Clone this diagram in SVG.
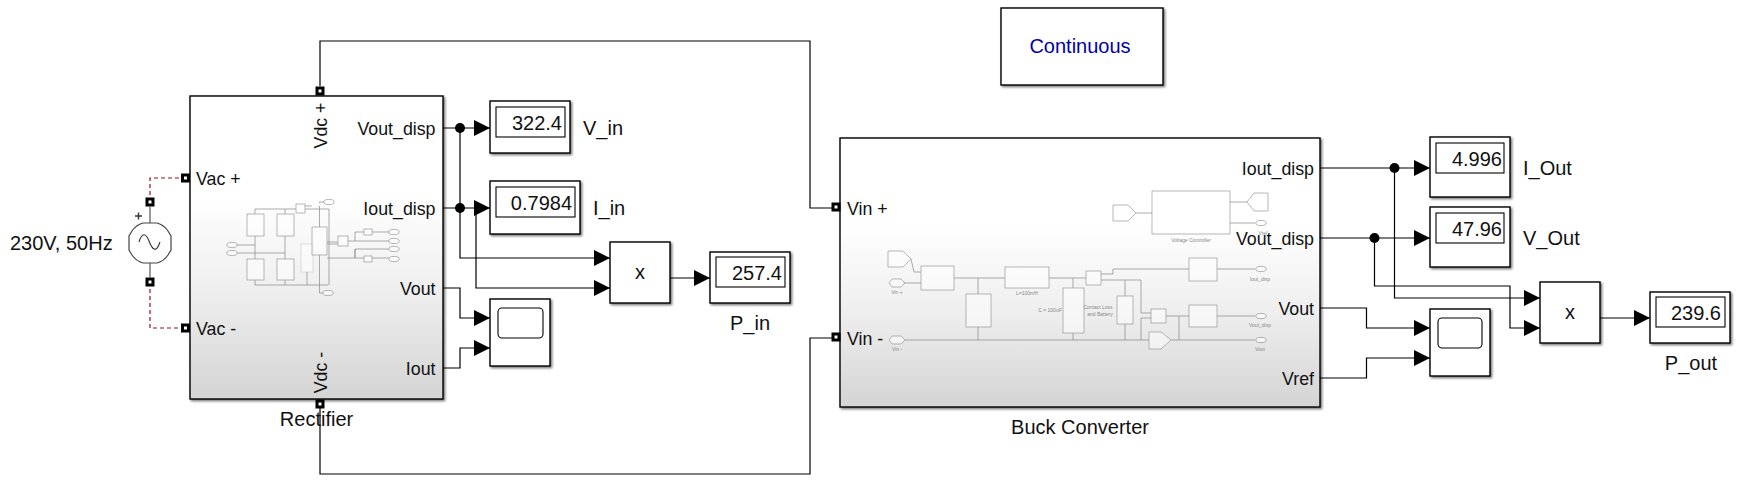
<svg xmlns="http://www.w3.org/2000/svg" width="1749" height="489" viewBox="0 0 1749 489">
<style>
text{font-family:"Liberation Sans",Arial,sans-serif;fill:#111}
.w{fill:none;stroke:#000;stroke-width:1.2}
.a{marker-end:url(#arr)}
.d{fill:none;stroke:#a01020;stroke-width:1.2;stroke-dasharray:4 3}
.b{fill:#fff;stroke:#000;stroke-width:1.4;filter:url(#sh)}
.i{fill:#fff;stroke:#000;stroke-width:1.1}
.g{fill:url(#grad);stroke:#000;stroke-width:1.4;filter:url(#sh)}
.p{font-size:17.8px}
.l{font-size:20px}
.v{font-size:20px;text-anchor:end}
.e{text-anchor:end}
.m{text-anchor:middle}
.mb{fill:#fff;fill-opacity:.5;stroke:#999;stroke-width:.7}
.ml{fill:none;stroke:#888;stroke-width:.7}
.mt{font-size:5px;fill:#888;text-anchor:middle}
</style>
<defs>
<filter id="sh" x="-5%" y="-5%" width="112%" height="112%"><feDropShadow dx="1.5" dy="1.5" stdDeviation="1.3" flood-color="#000" flood-opacity=".55"/></filter>
<linearGradient id="grad" x1="0" y1="0" x2="0" y2="1"><stop offset="0" stop-color="#fff"/><stop offset=".33" stop-color="#fff"/><stop offset=".65" stop-color="#eee"/><stop offset="1" stop-color="#d4d4d4"/></linearGradient>
<marker id="arr" markerUnits="userSpaceOnUse" markerWidth="17" markerHeight="17" refX="16" refY="8" orient="auto"><path d="M0 0L16 8L0 16Z" fill="#000"/></marker>
<g id="port"><rect x="-4.500" y="-4.500" width="9" height="9" fill="#000"/><rect x="-1.500" y="-1.500" width="3" height="3" fill="#fff"/></g>
<ellipse id="ov" rx="5.200" ry="2.600" fill="#fff" fill-opacity=".6" stroke="#888" stroke-width=".6"/>
</defs>

<g id="connectors">
<path class="w" d="M320 86V41H810V208H832"/>
<path class="w" d="M320 408V474H810V338H832"/>
<path class="d" d="M150 202V178H181"/>
<path class="d" d="M150 282V328H181"/>
<path class="w" d="M150 207V224M150 263V277" style="stroke:#555"/>
<path class="w a" d="M443 128H490"/>
<path class="w a" d="M443 208H490"/>
<path class="w a" d="M460 128V258H610"/>
<path class="w a" d="M476 208V288H610"/>
<path class="w a" d="M443 288H460V318H490"/>
<path class="w a" d="M443 368H460V348H490"/>
<path class="w a" d="M670 278H710"/>
<path class="w a" d="M1320 168H1430"/>
<path class="w a" d="M1320 238H1430"/>
<path class="w a" d="M1374.500 238V286H1510V328H1540"/>
<path class="w a" d="M1394.500 168V298H1540"/>
<path class="w a" d="M1320 308H1366.500V328H1430"/>
<path class="w a" d="M1320 378H1366.500V358H1430"/>
<path class="w a" d="M1600 318H1650"/>
<circle cx="460" cy="128" r="5"/><circle cx="460" cy="208" r="5"/>
<circle cx="1394.500" cy="168" r="5"/><circle cx="1374.500" cy="238" r="5"/>
</g>

<g id="continuous"><rect class="b" x="1001" y="8" width="162" height="77"/><text x="1080" y="53" font-size="20" text-anchor="middle" style="fill:#0000aa">Continuous</text></g>

<g id="source">
<use href="#port" x="150" y="202"/><use href="#port" x="150" y="282"/>
<path d="M143 223H157Q164 225 168 231L171 236V250L168 255Q164 261 157 263H143Q136 261 132 255L129 250V236L132 231Q136 225 143 223Z" fill="#fff" stroke="#444" stroke-width="1.200"/>
<path d="M139 242C142 232 146 233 149 241S156 254 160 242" fill="none" stroke="#333" stroke-width="1.100"/>
<path d="M135 216H142M138.500 212.500V219.500" stroke="#333" stroke-width="1.400"/>
<text class="l" x="10" y="250">230V, 50Hz</text>
</g>

<g id="rectifier">
<rect class="g" x="190" y="96" width="253" height="303"/>
<g id="rectifier-inner">
<rect class="mb" x="301" y="244" width="12" height="28" stroke-opacity=".4"/>
<path class="ml" d="M255 214V209H296M285 209V214M285 236V259M255 236V259M255 280V285H328M285 280V285M237 245H255M237 253H285M305 206H312M305 209H329V285M319.500 206V227M319.500 203V202H324M319.500 255V293H323M327 242H338M327 244H338M327 258H355V249H389M348 241H355V232H364M355 241H389M372 232H389M355 249V258H364M372 258H389M307 272V285"/>
<rect class="mb" x="247" y="214" width="17" height="22"/><rect class="mb" x="277" y="214" width="17" height="22"/>
<rect class="mb" x="247" y="259" width="17" height="21"/><rect class="mb" x="277" y="259" width="17" height="21"/>
<rect class="mb" x="296" y="204" width="9" height="9"/>
<rect class="mb" x="312" y="227" width="15" height="28"/>
<rect class="mb" x="338" y="236" width="10" height="10"/>
<rect class="mb" x="364" y="229" width="8" height="6"/><rect class="mb" x="364" y="256" width="8" height="6"/>
<use href="#ov" x="232" y="245"/><use href="#ov" x="232" y="253"/><use href="#ov" x="329" y="202"/><use href="#ov" x="328" y="293"/>
<use href="#ov" x="394" y="232"/><use href="#ov" x="394" y="241"/><use href="#ov" x="394" y="249"/><use href="#ov" x="394" y="259"/>
</g>
<use href="#port" x="320" y="91"/><use href="#port" x="320" y="404"/>
<use href="#port" x="185.500" y="178"/><use href="#port" x="185.500" y="328"/>
<text class="p" x="196" y="185">Vac +</text><text class="p" x="196" y="335">Vac -</text>
<text class="p e" x="435.500" y="135">Vout_disp</text><text class="p e" x="435.500" y="215">Iout_disp</text>
<text class="p e" x="435.500" y="295">Vout</text><text class="p e" x="435.500" y="375">Iout</text>
<text class="p m" transform="translate(327 125.500) rotate(-90)">Vdc +</text>
<text class="p m" transform="translate(327 372.500) rotate(-90)">Vdc -</text>
<text class="l m" x="316.500" y="426">Rectifier</text>
</g>

<g id="buck">
<rect class="g" x="840" y="138" width="480" height="269"/>
<g id="buck-inner">
<path class="ml" d="M1136 213H1152M1230 202H1247M1230 223H1255M911 259L914 272H921M903 283H921M954 278H1005M978 278V294M978 327V340M1049 278H1086M1073 278V288M1073 333V340M905 340H1149M1101 274H1113V269H1189M1101 280H1141V313H1151M1125 280V296M1125 324V340M1141 340V318H1151M1166 316H1189M1179 316V340M1171 340H1255M1217 269H1255M1217 316H1255"/>
<rect class="mb" x="1152" y="191" width="78" height="43"/>
<path class="mb" d="M1113 205H1128L1136 213L1128 221H1113Z"/>
<path class="mb" d="M1268 193H1254L1247 202L1254 211H1268Z"/>
<path class="mb" d="M888 251H903L911 259L903 267H888Z"/>
<path class="mb" d="M1149 332H1161L1171 340L1161 349H1149Z"/>
<rect class="mb" x="921" y="266" width="33" height="24"/>
<rect class="mb" x="1005" y="267" width="44" height="21"/>
<rect class="mb" x="966" y="294" width="25" height="33"/>
<rect class="mb" x="1063" y="288" width="21" height="45"/>
<rect class="mb" x="1086" y="271" width="15" height="14"/>
<rect class="mb" x="1117" y="296" width="16" height="28"/>
<rect class="mb" x="1151" y="309" width="15" height="14"/>
<rect class="mb" x="1189" y="258" width="28" height="23"/>
<rect class="mb" x="1189" y="305" width="28" height="22"/>
<path class="mb" d="M889 283L892 279H901L905 283L901 287H892Z"/><path class="mb" d="M889 340L892 336H901L905 340L901 344H892Z"/>
<use href="#ov" x="1261" y="223"/><use href="#ov" x="1261" y="269"/><use href="#ov" x="1261" y="316"/><use href="#ov" x="1261" y="340"/>
<text class="mt" x="1191" y="242">Voltage Controller</text>
<text class="mt" x="1263" y="235">Vref</text>
<text class="mt" x="897" y="294">Vin +</text><text class="mt" x="897" y="351">Vin -</text>
<text class="mt" x="1027" y="295">L=100mH</text>
<text class="mt" x="1050" y="312">C = 100uF</text>
<text class="mt" x="1098" y="309">Contact Loss</text><text class="mt" x="1100" y="316">and Battery</text>
<text class="mt" x="1260" y="281">Iout_disp</text><text class="mt" x="1260" y="327">Vout_disp</text><text class="mt" x="1260" y="351">Vout</text>
</g>
<use href="#port" x="836" y="207"/><use href="#port" x="836" y="337"/>
<text class="p" x="847" y="215">Vin +</text><text class="p" x="847" y="345">Vin -</text>
<text class="p e" x="1314" y="175">Iout_disp</text><text class="p e" x="1314" y="245">Vout_disp</text>
<text class="p e" x="1314" y="315">Vout</text><text class="p e" x="1314" y="385">Vref</text>
<text class="l m" x="1080" y="434">Buck Converter</text>
</g>

<g id="v-in"><rect class="b" x="490" y="101" width="80" height="52"/><rect class="i" x="496" y="107" width="69" height="30"/><text class="v" x="562" y="130">322.4</text><text class="l" x="583" y="135">V_in</text></g>
<g id="i-in"><rect class="b" x="490" y="181" width="90" height="53"/><rect class="i" x="496" y="187" width="79" height="30"/><text class="v" x="572" y="210">0.7984</text><text class="l" x="593" y="215">I_in</text></g>
<g id="scope-in"><rect class="b" x="490" y="299" width="60" height="67"/><rect class="i" x="498" y="308" width="45" height="30" rx="4"/></g>
<g id="product-in"><rect class="b" x="610" y="242" width="60" height="61"/><text class="m" x="640" y="279" font-size="20">x</text></g>
<g id="p-in"><rect class="b" x="710" y="252" width="80" height="51"/><rect class="i" x="716" y="257" width="69" height="30"/><text class="v" x="782" y="280">257.4</text><text class="l m" x="750" y="330">P_in</text></g>
<g id="i-out"><rect class="b" x="1430" y="137" width="80" height="60"/><rect class="i" x="1436" y="143" width="68" height="30"/><text class="v" x="1502" y="166">4.996</text><text class="l" x="1523" y="175">I_Out</text></g>
<g id="v-out"><rect class="b" x="1430" y="207" width="80" height="60"/><rect class="i" x="1436" y="213" width="68" height="30"/><text class="v" x="1502" y="236">47.96</text><text class="l" x="1523" y="245">V_Out</text></g>
<g id="scope-out"><rect class="b" x="1430" y="309" width="60" height="67"/><rect class="i" x="1438" y="318" width="44" height="30" rx="4"/></g>
<g id="product-out"><rect class="b" x="1540" y="282" width="60" height="61"/><text class="m" x="1570" y="319" font-size="20">x</text></g>
<g id="p-out"><rect class="b" x="1650" y="292" width="80" height="51"/><rect class="i" x="1656" y="297" width="69" height="30"/><text class="v" x="1721" y="320">239.6</text><text class="l m" x="1691" y="370">P_out</text></g>
</svg>
